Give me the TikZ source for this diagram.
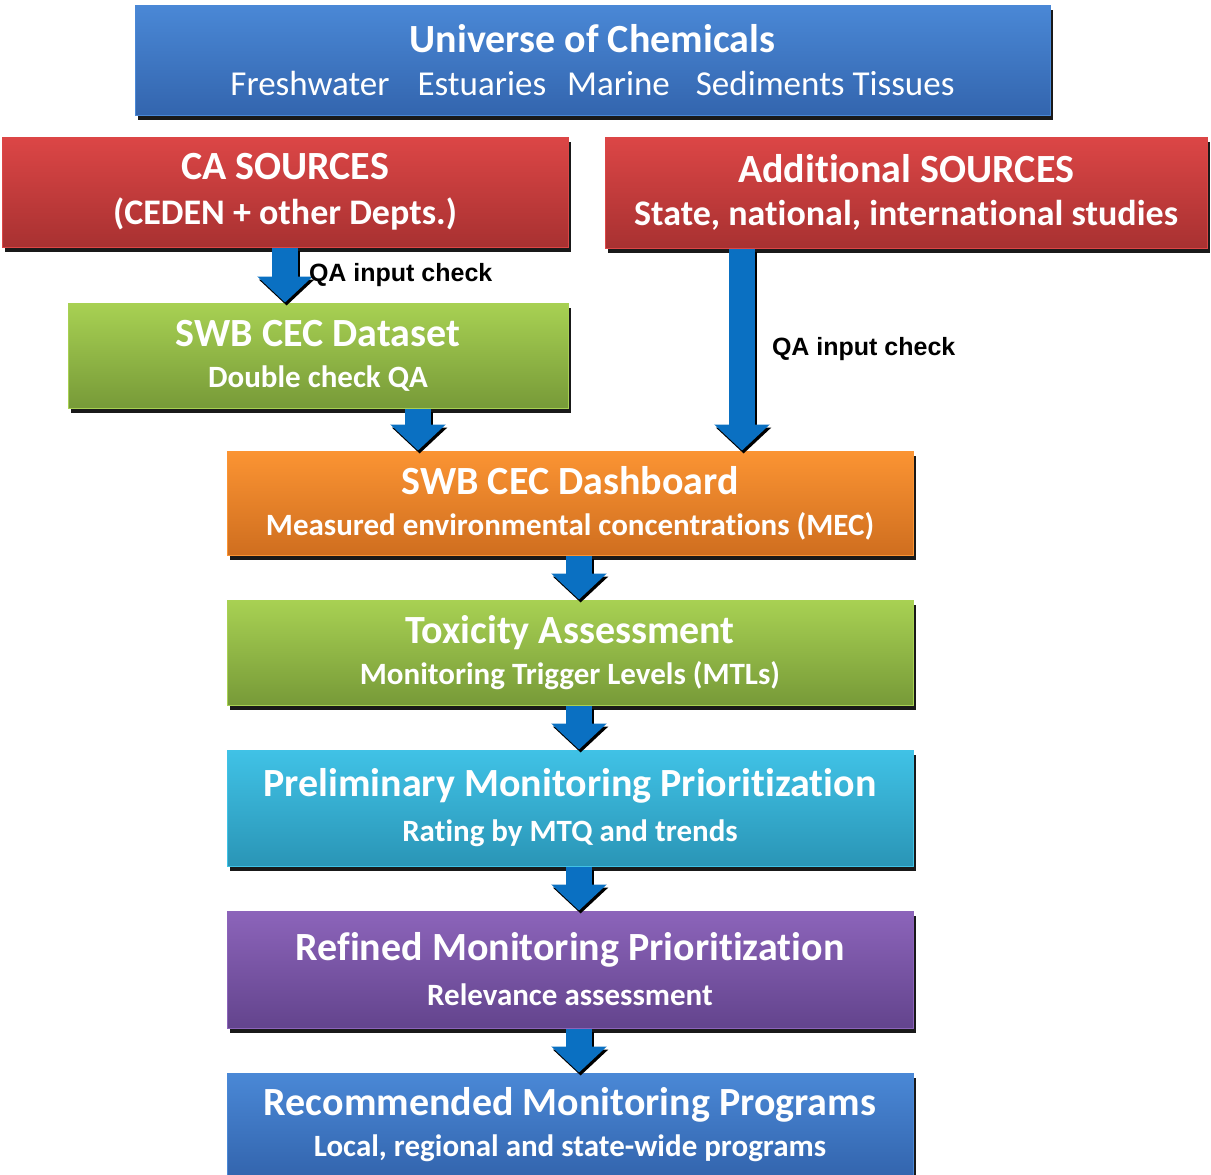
\documentclass[tikz,border=0pt]{standalone}
\usepackage{fontspec}
\setmainfont{Carlito}[Ligatures={NoCommon,NoContextual}]
\newfontfamily\qafont{Liberation Sans}
\usepackage{tikz}
\usetikzlibrary{arrows.meta}
\usetikzlibrary{positioning}
\usetikzlibrary{shadows}

\definecolor{BlueTop}{HTML}{4A88D6}
\definecolor{BlueBottom}{HTML}{3365AE}
\definecolor{RedTop}{HTML}{DC4646}
\definecolor{RedBottom}{HTML}{A83131}
\definecolor{GreenTop}{HTML}{A8D153}
\definecolor{GreenBottom}{HTML}{779A38}
\definecolor{OrangeTop}{HTML}{FB9433}
\definecolor{OrangeBottom}{HTML}{CF6E1F}
\definecolor{CyanTop}{HTML}{40C2E6}
\definecolor{CyanBottom}{HTML}{2A95B6}
\definecolor{PurpleTop}{HTML}{8C64BA}
\definecolor{PurpleBottom}{HTML}{63448D}
\definecolor{FlowBlue}{HTML}{0A70C2}

\newcommand\boxtitle{\fontsize{20}{24}\selectfont\bfseries}
\newcommand\boxsub{\fontsize{15.5}{20.5}\selectfont\bfseries}
\newcommand\boxsubbig{\fontsize{18}{20.5}\selectfont\bfseries}
\newcommand\boxsubplain{\fontsize{17.5}{20.5}\selectfont\mdseries}

\tikzset{
  box/.style={rectangle, inner sep=0pt, align=center, text=white,
    font=\boxsub, line width=0.5pt,
    drop shadow={shadow xshift=1.5pt, shadow yshift=-2.5pt, fill=black, opacity=.9}},
  bluebox/.style={box, draw=BlueTop, top color=BlueTop, bottom color=BlueBottom},
  redbox/.style={box, draw=RedTop, top color=RedTop, bottom color=RedBottom},
  greenbox/.style={box, draw=GreenTop, top color=GreenTop, bottom color=GreenBottom},
  orangebox/.style={box, draw=OrangeTop, top color=OrangeTop, bottom color=OrangeBottom},
  cyanbox/.style={box, draw=CyanTop, top color=CyanTop, bottom color=CyanBottom},
  purplebox/.style={box, draw=PurpleTop, top color=PurpleTop, bottom color=PurpleBottom},
  flow/.style={draw=FlowBlue, line width=13pt, -{Triangle[width=27pt,length=13pt]}},
  flowshadow/.style={flow, draw=black, transform canvas={shift={(0.8pt,-1.5pt)}}},
  qalabel/.style={font=\qafont\bfseries\fontsize{12.5}{14}\selectfont, text=black, inner sep=0pt}
}

\begin{document}
\begin{tikzpicture}[x=0.5pt, y=-0.5pt,
      node distance=22pt]

    \useasboundingbox (0,0) rectangle (1211,1174);

    \node[bluebox, minimum width=457.5pt, minimum height=55pt]
      (Universe) at (592.5,60) {{\boxtitle Universe of Chemicals}\\[1pt]
      {\boxsubplain Freshwater\hspace{14pt}Estuaries\hspace{10.5pt}Marine\hspace{13pt}Sediments Tissues}};
    \node[redbox, minimum width=283pt, minimum height=55pt]
      (CASources) at (285,192) {{\boxtitle CA SOURCES}\\[2pt]
      {\boxsubbig (CEDEN + other Depts.)}};
    \node[redbox, minimum width=301pt, minimum height=55.5pt]
      (AddSources) at (906,192.5) {{\boxtitle Additional SOURCES}\\[1pt]
      {\boxsubbig State, national, international studies}};
    \node[greenbox, minimum width=250pt, minimum height=52.5pt]
      (Dataset) at (318,355.5) {{\boxtitle SWB CEC Dataset}\\
      Double check QA};
    \node[orangebox, minimum width=343pt, minimum height=52pt]
      (Dashboard) at (570,503) {{\boxtitle SWB CEC Dashboard}\\
      Measured environmental concentrations (MEC)};
    \node[greenbox, minimum width=343pt, minimum height=52.5pt]
      (Toxicity) [below=of Dashboard] {{\boxtitle Toxicity Assessment}\\
      Monitoring Trigger Levels (MTLs)};
    \node[cyanbox, minimum width=343pt, minimum height=58pt]
      (Preliminary) [below=of Toxicity] {{\boxtitle Preliminary Monitoring Prioritization}\\[2pt]
      Rating by MTQ and trends};
    \node[purplebox, minimum width=343pt, minimum height=58.5pt]
      (Refined) [below=of Preliminary] {{\boxtitle Refined Monitoring Prioritization}\\[2pt]
      Relevance assessment};
    \node[bluebox, minimum width=343pt, minimum height=51.5pt]
      (Recommended) [below=of Refined] {{\boxtitle Recommended Monitoring Programs}\\
      Local, regional and state-wide programs};

    % block arrows
    \draw[flowshadow] (CASources.south) -- (CASources.south |- Dataset.north);
    \draw[flow] (CASources.south) -- (CASources.south |- Dataset.north)
      node[qalabel, midway, right=5.5pt] {QA input check};
    \draw[flowshadow] ([xshift=50pt]Dataset.south) -- ([xshift=50pt]Dataset.south |- Dashboard.north);
    \draw[flow] ([xshift=50pt]Dataset.south) -- ([xshift=50pt]Dataset.south |- Dashboard.north);
    \draw[flowshadow] ([xshift=-82pt]AddSources.south) -- ([xshift=-82pt]AddSources.south |- Dashboard.north);
    \draw[flow] ([xshift=-82pt]AddSources.south) -- ([xshift=-82pt]AddSources.south |- Dashboard.north)
      node[qalabel, midway, right=8.5pt] {QA input check};
    \foreach \a/\b in {Dashboard/Toxicity, Toxicity/Preliminary,
                       Preliminary/Refined, Refined/Recommended} {
      \draw[flowshadow] ([xshift=4.5pt]\a.south) -- ([xshift=4.5pt]\a.south |- \b.north);
      \draw[flow] ([xshift=4.5pt]\a.south) -- ([xshift=4.5pt]\a.south |- \b.north);
    }

  \end{tikzpicture}
\end{document}
